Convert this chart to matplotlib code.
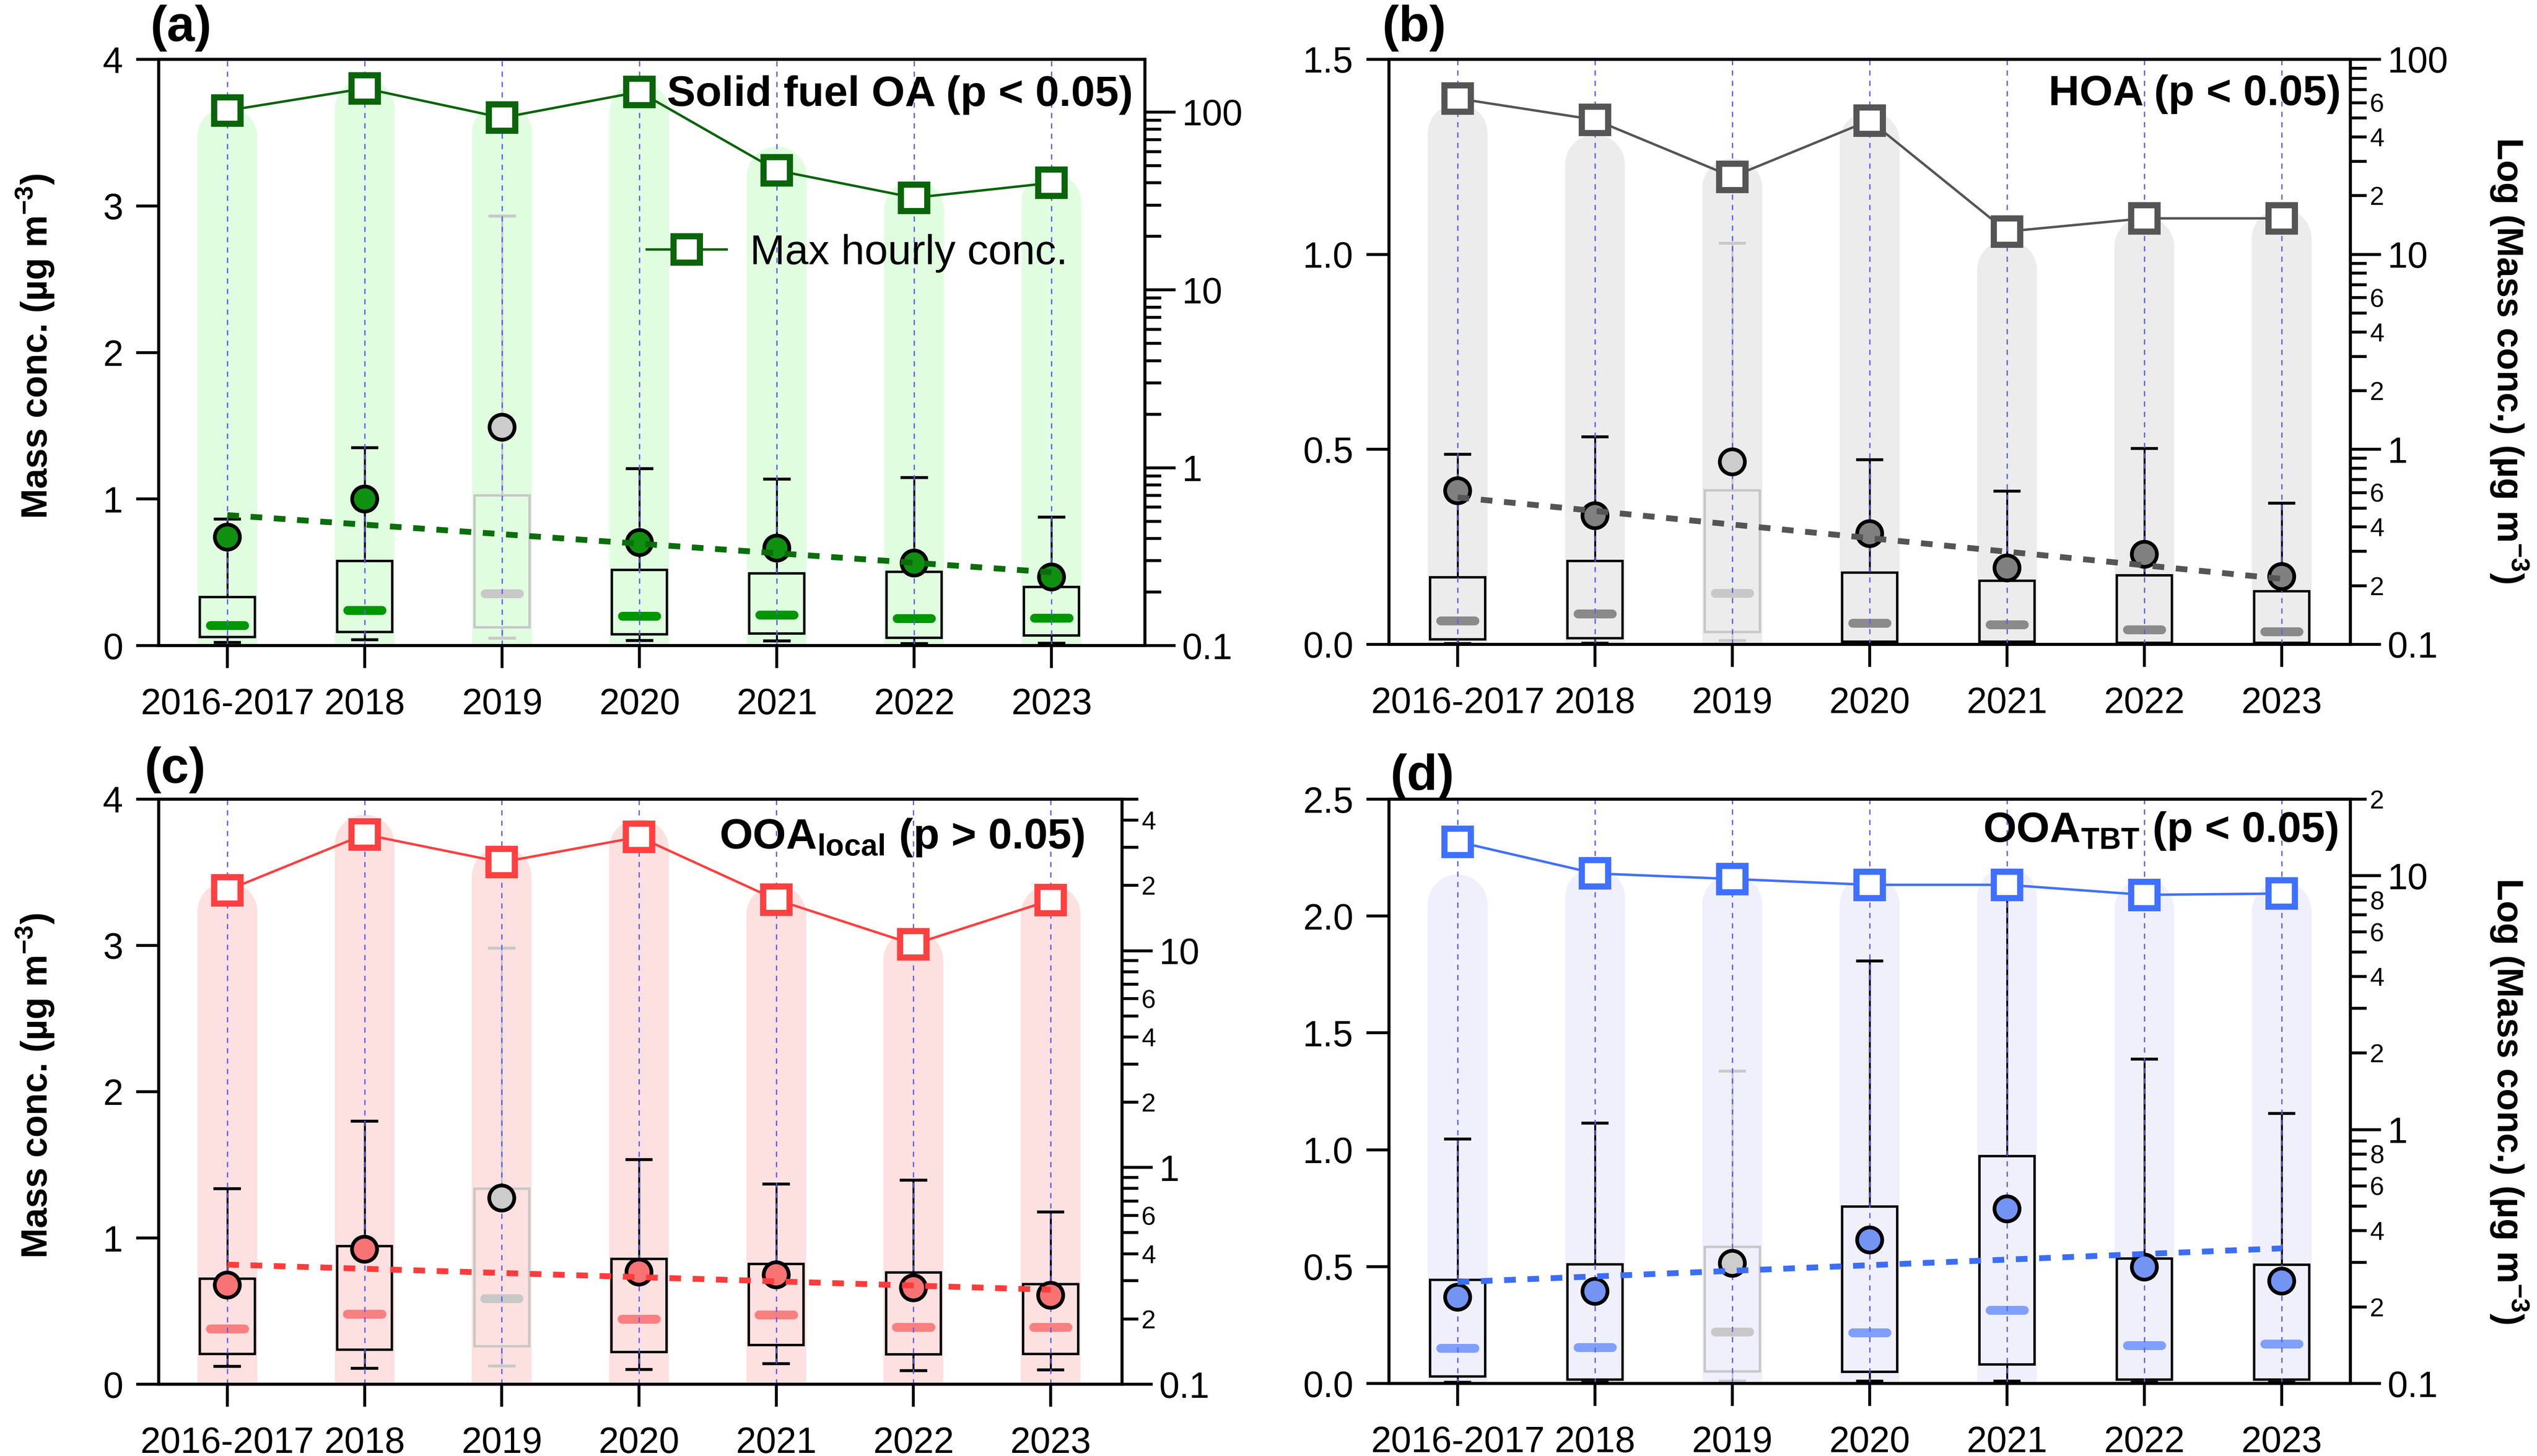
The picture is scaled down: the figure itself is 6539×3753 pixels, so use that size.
import numpy as np
import matplotlib.pyplot as plt
from matplotlib.ticker import FuncFormatter, LogLocator

plt.rcParams['font.family'] = ['Liberation Sans', 'DejaVu Sans']

years = ['2016-2017', '2018', '2019', '2020', '2021', '2022', '2023']

# (a) Solid fuel OA
a_box_lo = [0.057, 0.092, 0.124, 0.076, 0.083, 0.054, 0.070]
a_box_hi = [0.33, 0.576, 1.025, 0.515, 0.493, 0.503, 0.40]
a_median = [0.137, 0.242, 0.356, 0.20, 0.21, 0.185, 0.188]
a_whisk_lo = [0.022, 0.04, 0.05, 0.035, 0.032, 0.013, 0.016]
a_whisk_hi = [0.862, 1.35, 2.93, 1.206, 1.136, 1.146, 0.875]
a_mean = [0.74, 1.0, 1.49, 0.703, 0.665, 0.563, 0.468]
a_max = [102, 136, 93, 130, 47, 33, 40]
a_trend = [0.89, 0.50]
a_cloud = [3.47, 3.66, 3.5, 3.64, 3.2, 2.97, 3.02]

# (b) HOA
b_box_lo = [0.013, 0.016, 0.032, 0.007, 0.007, 0.004, 0.004]
b_box_hi = [0.172, 0.214, 0.395, 0.184, 0.163, 0.177, 0.136]
b_median = [0.061, 0.079, 0.131, 0.055, 0.051, 0.038, 0.033]
b_whisk_lo = [0.002, 0.003, 0.01, 0.001, 0.001, 0.001, 0.001]
b_whisk_hi = [0.487, 0.532, 1.029, 0.473, 0.393, 0.502, 0.362]
b_mean = [0.394, 0.33, 0.468, 0.284, 0.196, 0.231, 0.174]
b_max = [63, 49, 25, 48.6, 13.1, 15.3, 15.3]
b_trend = [0.377, 0.168]
b_cloud = [1.31, 1.23, 1.17, 1.29, 0.96, 1.02, 1.04]

# (c) OOA local
c_box_lo = [0.207, 0.235, 0.261, 0.22, 0.267, 0.204, 0.207]
c_box_hi = [0.722, 0.945, 1.337, 0.856, 0.821, 0.764, 0.684]
c_median = [0.379, 0.481, 0.586, 0.446, 0.474, 0.391, 0.391]
c_whisk_lo = [0.121, 0.108, 0.124, 0.102, 0.14, 0.092, 0.099]
c_whisk_hi = [1.337, 1.798, 2.982, 1.537, 1.368, 1.394, 1.177]
c_mean = [0.678, 0.923, 1.273, 0.767, 0.748, 0.659, 0.608]
c_max = [19.0, 34.4, 25.6, 33.5, 17.2, 10.7, 17.1]
c_trend = [0.818, 0.646]
c_cloud = [3.23, 3.69, 3.47, 3.66, 3.21, 2.9, 3.21]

# (d) OOA TBT
d_box_lo = [0.03, 0.016, 0.052, 0.05, 0.082, 0.016, 0.016]
d_box_hi = [0.444, 0.51, 0.584, 0.757, 0.972, 0.534, 0.508]
d_median = [0.151, 0.155, 0.221, 0.217, 0.313, 0.163, 0.169]
d_whisk_lo = [0.005, 0.005, 0.01, 0.01, 0.01, 0.005, 0.005]
d_whisk_hi = [1.046, 1.114, 1.337, 1.807, 2.09, 1.388, 1.155]
d_mean = [0.369, 0.394, 0.514, 0.614, 0.747, 0.498, 0.438]
d_max = [13.6, 10.2, 9.7, 9.2, 9.2, 8.4, 8.5]
d_trend = [0.434, 0.578]
d_cloud = [2.05, 2.08, 2.05, 2.05, 2.08, 2.03, 2.02]

GREY_IDX = 2  # 2019 drawn in grey
W, H = 6539, 3753


def px_box(l, t, r, b):
    return [l / W, 1 - b / H, (r - l) / W, (b - t) / H]


def minor_fmt(keep):
    def f(v, pos):
        d = int(round(v / 10 ** np.floor(np.log10(v) + 1e-9)))
        return str(d) if d in keep else ''
    return FuncFormatter(f)


def draw_panel(ax, lo, hi, med, wlo, whi, mean, mx, trend, cloud, col,
               ylim, yticks, ytl, xmax, rlim, rkeep):
    x = np.arange(len(years))
    grey = '#c8c8c8'
    edge = ['black'] * len(x)
    edge[GREY_IDX] = grey
    medc = [col['med']] * len(x)
    medc[GREY_IDX] = grey
    meanc = [col['mean']] * len(x)
    meanc[GREY_IDX] = '#cccccc'

    # cloud of hourly points
    cl = ax.vlines(x, 0, cloud, colors=col['cloud'], lw=37, zorder=1)
    cl.set_capstyle('round')
    # boxes and whiskers
    hts = np.array(hi) - np.array(lo)
    ax.bar(x, hts, bottom=lo, width=0.4, facecolor=col['cloud'],
           edgecolor=edge, lw=1.5, zorder=2)
    ax.vlines(x, hi, whi, colors=edge, lw=1.2, zorder=2)
    ax.vlines(x, wlo, lo, colors=edge, lw=1.2, zorder=2)
    ax.hlines(whi, x - 0.1, x + 0.1, colors=edge, lw=1.8, zorder=2)
    ax.hlines(wlo, x - 0.1, x + 0.1, colors=edge, lw=1.8, zorder=2)
    mc = ax.hlines(med, x - 0.125, x + 0.125, colors=medc, lw=5.5, zorder=3)
    mc.set_capstyle('round')
    for xi in x:
        ax.axvline(xi, color='#5c5cff', lw=0.8, ls=(0, (4, 4)), zorder=4)
    ax.scatter(x, mean, s=15.5 ** 2, c=meanc, edgecolors='black',
               linewidths=2.3, zorder=5)
    ax.plot([x[0], x[-1]], trend, color=col['trend'], lw=3.6,
            ls=(0, (2, 2)), zorder=6)

    ax.set_xlim(-0.5, xmax)
    ax.set_ylim(*ylim)
    ax.set_yticks(yticks)
    ax.set_yticklabels(ytl)
    ax.set_xticks(x)
    ax.set_xticklabels(years)
    ax.tick_params(axis='y', length=14, width=1.8, labelsize=22.5, pad=8)
    ax.tick_params(axis='x', length=14, width=1.8, labelsize=22.5, pad=12)
    for s in ax.spines.values():
        s.set_linewidth(1.8)

    ax2 = ax.twinx()
    ax2.set_yscale('log')
    ax2.set_ylim(*rlim)
    line, = ax2.plot(x, mx, '-s', color=col['max'], lw=1.5, ms=16.5,
                     mew=3.8, mfc='white', zorder=5,
                     label='Max hourly conc.')
    ax2.yaxis.set_major_locator(LogLocator(base=10))
    ax2.yaxis.set_major_formatter(FuncFormatter(lambda v, p: f'{v:g}'))
    ax2.yaxis.set_minor_locator(LogLocator(base=10, subs=np.arange(2, 10)))
    ax2.yaxis.set_minor_formatter(minor_fmt(rkeep))
    ax2.tick_params(axis='y', which='major', length=19, width=1.8,
                    labelsize=22.5, pad=4)
    ax2.tick_params(axis='y', which='minor', length=10, width=1.8,
                    labelsize=16, pad=2)
    for s in ax2.spines.values():
        s.set_linewidth(1.8)
    return ax2, line


fig = plt.figure(figsize=(W / 300, H / 300), dpi=300)

green = dict(cloud='#e0fde0', med='#009600', mean='#109010',
             max='#0a640a', trend='#0a6e0a')
grey_c = dict(cloud='#ececec', med='#8a8a8a', mean='#808080',
              max='#555555', trend='#555555')
red = dict(cloud='#fde0e0', med='#f88080', mean='#f87474',
           max='#ff4040', trend='#ff3c3c')
blue = dict(cloud='#f0f0fd', med='#80a0ff', mean='#7494f4',
            max='#4070ff', trend='#3c6ef5')

ylab = 'Mass conc. (µg m$^{\\mathregular{-3}}$)'
rlab = 'Log (Mass conc.) (µg m$^{\\mathregular{-3}}$)'

# (a)
axa = fig.add_axes(px_box(409, 153, 2951, 1664))
a2, la = draw_panel(axa, a_box_lo, a_box_hi, a_median, a_whisk_lo, a_whisk_hi,
                    a_mean, a_max, a_trend, a_cloud, green,
                    (0, 4), [0, 1, 2, 3, 4], ['0', '1', '2', '3', '4'],
                    6.68, (0.1, 198), set())
axa.set_ylabel(ylab, fontsize=22.5, fontweight='bold', ha='center',
               va='center')
axa.yaxis.set_label_coords(-0.125, 0.51)
axa.text(0.988, 0.9206, 'Solid fuel OA (p < 0.05)', transform=axa.transAxes,
         ha='right', va='baseline', fontsize=26.5, fontweight='bold', zorder=10)
a2.legend(handles=[la], loc='center left', bbox_to_anchor=(0.495, 0.669),
          frameon=False, fontsize=26, handlelength=1.9, handletextpad=0.55,
          borderpad=0, borderaxespad=0)

# (b)
axb = fig.add_axes(px_box(3580, 153, 6058, 1661))
b2, _ = draw_panel(axb, b_box_lo, b_box_hi, b_median, b_whisk_lo, b_whisk_hi,
                   b_mean, b_max, b_trend, b_cloud, grey_c,
                   (0, 1.5), [0, 0.5, 1.0, 1.5], ['0.0', '0.5', '1.0', '1.5'],
                   6.5, (0.1, 100), {2, 4, 6})
b2.set_ylabel(rlab, fontsize=22.5, fontweight='bold', rotation=270,
              ha='center', va='center')
b2.yaxis.set_label_coords(1.165, 0.485)
axb.text(0.990, 0.922, 'HOA (p < 0.05)', transform=axb.transAxes,
         ha='right', va='baseline', fontsize=26.5, fontweight='bold', zorder=10)

# (c)
axc = fig.add_axes(px_box(409, 2060, 2892, 3568))
c2, _ = draw_panel(axc, c_box_lo, c_box_hi, c_median, c_whisk_lo, c_whisk_hi,
                   c_mean, c_max, c_trend, c_cloud, red,
                   (0, 4), [0, 1, 2, 3, 4], ['0', '1', '2', '3', '4'],
                   6.52, (0.1, 50), {2, 4, 6})
axc.set_ylabel(ylab, fontsize=22.5, fontweight='bold', ha='center',
               va='center')
axc.yaxis.set_label_coords(-0.128, 0.51)
axc.text(0.9605, 0.916, 'OOA$_\\mathregular{local}$ (p > 0.05)',
         transform=axc.transAxes, ha='right', va='baseline', fontsize=26.5,
         fontweight='bold', zorder=10)

# (d)
axd = fig.add_axes(px_box(3580, 2060, 6058, 3566))
d2, _ = draw_panel(axd, d_box_lo, d_box_hi, d_median, d_whisk_lo, d_whisk_hi,
                   d_mean, d_max, d_trend, d_cloud, blue,
                   (0, 2.5), [0, 0.5, 1.0, 1.5, 2.0, 2.5],
                   ['0.0', '0.5', '1.0', '1.5', '2.0', '2.5'],
                   6.5, (0.1, 20), {2, 4, 6, 8})
d2.set_ylabel(rlab, fontsize=22.5, fontweight='bold', rotation=270,
              ha='center', va='center')
d2.yaxis.set_label_coords(1.165, 0.483)
axd.text(0.987, 0.927, 'OOA$_\\mathregular{TBT}$ (p < 0.05)',
         transform=axd.transAxes, ha='right', va='baseline', fontsize=26.5,
         fontweight='bold', zorder=10)

# panel letters
for lab, (px, py) in zip(['(a)', '(b)', '(c)', '(d)'],
                         [(388, 12), (3563, 12), (373, 1924), (3584, 1942)]):
    fig.text(px / W, 1 - py / H, lab, fontsize=31, fontweight='bold',
             ha='left', va='top')

fig.savefig('out.png', dpi=300)
